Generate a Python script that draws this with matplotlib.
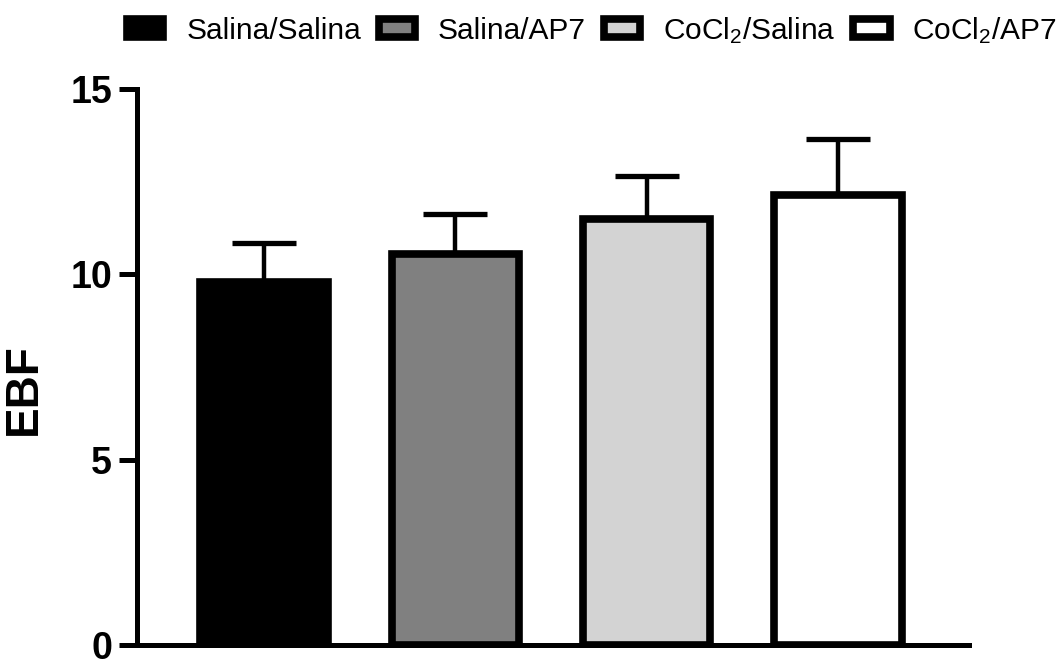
import matplotlib
matplotlib.use("Agg")
import matplotlib.pyplot as plt

plt.rcParams['font.family'] = ['Liberation Sans', 'DejaVu Sans']
plt.rcParams['mathtext.default'] = 'regular'

groups = ["Salina/Salina", "Salina/AP7", "CoCl$_2$/Salina", "CoCl$_2$/AP7"]
means = [9.78, 10.55, 11.49, 12.14]
sems = [1.05, 1.07, 1.15, 1.50]
colors = ["#000000", "#808080", "#d3d3d3", "#ffffff"]
yticks = [0, 5, 10, 15]

fig = plt.figure(figsize=(10.61, 6.60), dpi=100)
ax = fig.add_axes([0.1291, 0.0220, 0.7842, 0.8438])

x = list(range(len(groups)))
handles = []
for i in x:
    b = ax.bar(i, means[i], width=0.665, color=colors[i], edgecolor="black",
               linewidth=5.5, zorder=3, label=groups[i])
    handles.append(b)
ax.errorbar(x, means, yerr=[[0] * len(sems), sems], fmt="none", ecolor="black",
            elinewidth=3.2, capsize=23, capthick=3.8, zorder=2)

ax.set_xlim(-0.664, 3.685)
ax.set_ylim(0, 15)
ax.set_yticks(yticks)
ax.set_yticklabels([str(t) for t in yticks], fontsize=27, fontweight="bold")
ax.set_xticks([])
for s in ["top", "right"]:
    ax.spines[s].set_visible(False)
for s in ["left", "bottom"]:
    ax.spines[s].set_linewidth(3.6)
    ax.spines[s].set_capstyle("projecting")
ax.tick_params(axis="y", length=13, width=3.6, pad=5)

ax.set_ylabel("EBF", fontsize=33, fontweight="bold")
ax.yaxis.set_label_coords(-0.109, 0.46)

fig.legend(handles=handles, labels=groups, loc="upper left",
           bbox_to_anchor=(127 / 1061, 1 - 15 / 660), ncol=4, frameon=False,
           fontsize=21.5, handlelength=1.22, handleheight=0.55, handletextpad=0.76,
           columnspacing=0.6, borderpad=0, borderaxespad=0)

fig.savefig("out.png", dpi=100)
